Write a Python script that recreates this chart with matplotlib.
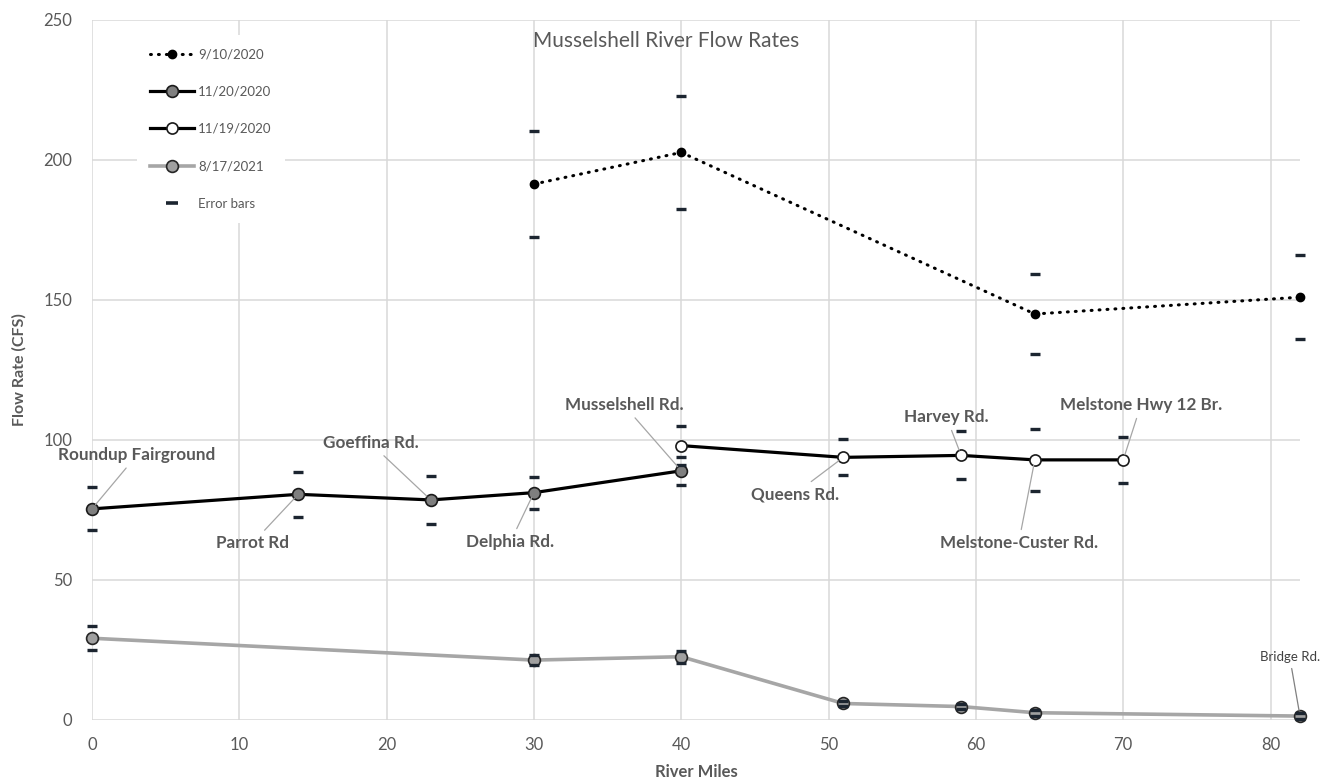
import matplotlib
matplotlib.use("Agg")
import matplotlib.pyplot as plt
from matplotlib.lines import Line2D

plt.rcParams['font.family'] = ['Lato', 'DejaVu Sans']

# ---------------- data ----------------
labels = ["9/10/2020", "11/20/2020", "11/19/2020", "8/17/2021"]

x_sep = [30, 40, 64, 82]
y_sep = [191.4, 202.7, 145.0, 151.0]
e_sep = [19.0, 20.2, 14.4, 15.0]

x_nov20 = [0, 14, 23, 30, 40]
y_nov20 = [75.4, 80.6, 78.6, 81.2, 89.0]
e_nov20 = [7.7, 8.0, 8.5, 5.7, 4.9]

x_nov19 = [40, 51, 59, 64, 70]
y_nov19 = [98.0, 93.8, 94.5, 92.9, 92.9]
e_nov19 = [7.0, 6.4, 8.6, 11.1, 8.3]

x_aug = [0, 30, 40, 51, 59, 64, 82]
y_aug = [29.2, 21.4, 22.6, 5.9, 4.8, 2.6, 1.4]
e_aug = [4.3, 1.7, 2.1, 1.0, 1.0, 1.0, 1.0]

# site annotations: (name, point x, point y, text x, text y)
site_names = ["Roundup Fairground", "Parrot Rd", "Goeffina Rd.", "Delphia Rd.",
              "Musselshell Rd.", "Queens Rd.", "Harvey Rd.", "Melstone-Custer Rd.",
              "Melstone Hwy 12 Br."]
site_px = [0, 14, 23, 30, 40, 51, 59, 64, 70]
site_py = [75.4, 80.6, 78.6, 81.2, 89.0, 93.8, 94.5, 92.9, 92.9]
site_tx = [3.05, 10.9, 18.9, 28.4, 36.1, 47.7, 58.0, 62.9, 71.2]
site_ty = [94.6, 63.2, 98.9, 63.6, 112.5, 80.7, 108.2, 63.2, 112.5]

bridge_name = "Bridge Rd."
bridge_pt = (82, 1.4)
bridge_txt = (81.3, 22.5)

x_ticks = [0, 10, 20, 30, 40, 50, 60, 70, 80]
y_ticks = [0, 50, 100, 150, 200, 250]

# ---------------- figure ----------------
W, H = 1323, 781
fig = plt.figure(figsize=(W / 100, H / 100), dpi=100)
ax = fig.add_axes([92 / W, 1 - 720 / H, (1300 - 92) / W, 700 / H])

ax.set_xlim(0, 82)
ax.set_ylim(0, 250)
ax.set_xticks(x_ticks)
ax.set_yticks(y_ticks)
ax.grid(True, color="#d9d9d9", lw=1.1, zorder=0)
ax.set_axisbelow(True)
for s in ax.spines.values():
    s.set_visible(False)
ax.tick_params(length=0, labelsize=12, labelcolor="#595959")
ax.tick_params(axis='y', pad=14)
ax.tick_params(axis='x', pad=12)

gray_txt = "#595959"
cap_col = "#1c2530"
ax.set_xlabel("River Miles", fontsize=12, fontweight="bold", color=gray_txt, labelpad=8)
ax.set_ylabel("Flow Rate (CFS)", fontsize=11.5, fontweight="bold", color=gray_txt)
ax.yaxis.set_label_coords(-0.054, 0.5)

ax.text(0.475, 0.970, "Musselshell River Flow Rates", transform=ax.transAxes,
        ha="center", va="center", fontsize=15, color=gray_txt, zorder=6)

# lines
l1, = ax.plot(x_sep, y_sep, color="black", lw=2.2, linestyle=(0, (0.3, 2.3)),
              dash_capstyle="round", marker="o", ms=6, mfc="black", mec="black",
              zorder=4, clip_on=False)
l2, = ax.plot(x_nov20, y_nov20, color="black", lw=2.3, marker="o", ms=8.5,
              mfc="#7f7f7f", mec="#1a1a1a", mew=1.2, zorder=4, clip_on=False)
l3, = ax.plot(x_nov19, y_nov19, color="black", lw=2.3, marker="o", ms=8,
              mfc="white", mec="#1a1a1a", mew=1.2, zorder=4, clip_on=False)
l4, = ax.plot(x_aug, y_aug, color="#a6a6a6", lw=2.6, marker="o", ms=8.5,
              mfc="#a0a0a0", mec="#262626", mew=1.2, zorder=3, clip_on=False)

# error bars (caps only)
for xs, ys, es in [(x_sep, y_sep, e_sep), (x_nov20, y_nov20, e_nov20),
                   (x_nov19, y_nov19, e_nov19), (x_aug, y_aug, e_aug)]:
    eb = ax.errorbar(xs, ys, yerr=es, fmt="none", ecolor=cap_col, elinewidth=0,
                     capsize=3.8, capthick=2.4, zorder=5)
    for c in eb[1]:
        c.set_clip_on(False)

# annotations
for name, px, py, tx, ty in zip(site_names, site_px, site_py, site_tx, site_ty):
    ax.annotate(name, xy=(px, py), xytext=(tx, ty), ha="center", va="center",
                fontsize=12.3, fontweight="bold", color=gray_txt, zorder=6,
                annotation_clip=False,
                arrowprops=dict(arrowstyle="-", color="#a6a6a6", lw=0.9,
                                shrinkA=2, shrinkB=4))
ax.annotate(bridge_name, xy=bridge_pt, xytext=bridge_txt, ha="center", va="center",
            fontsize=9.5, color="#404040", zorder=6, annotation_clip=False,
            arrowprops=dict(arrowstyle="-", color="#808080", lw=0.9,
                            shrinkA=2, shrinkB=4))

# legend
err_handle = Line2D([], [], linestyle="none", marker="_", ms=8, mew=2.6, color=cap_col)
leg = ax.legend([l1, l2, l3, l4, err_handle], labels + ["Error bars"],
                loc="upper left", bbox_to_anchor=((137 - 92) / 1208, (720 - 35) / 700),
                borderaxespad=0, frameon=True, fancybox=False, framealpha=1,
                edgecolor="white", facecolor="white", fontsize=9.5,
                handlelength=3.3, handletextpad=0.35, labelspacing=1.92,
                borderpad=1.0, labelcolor=gray_txt)
leg.get_frame().set_linewidth(0)
leg.set_zorder(7)

fig.savefig("out.png", dpi=100)
